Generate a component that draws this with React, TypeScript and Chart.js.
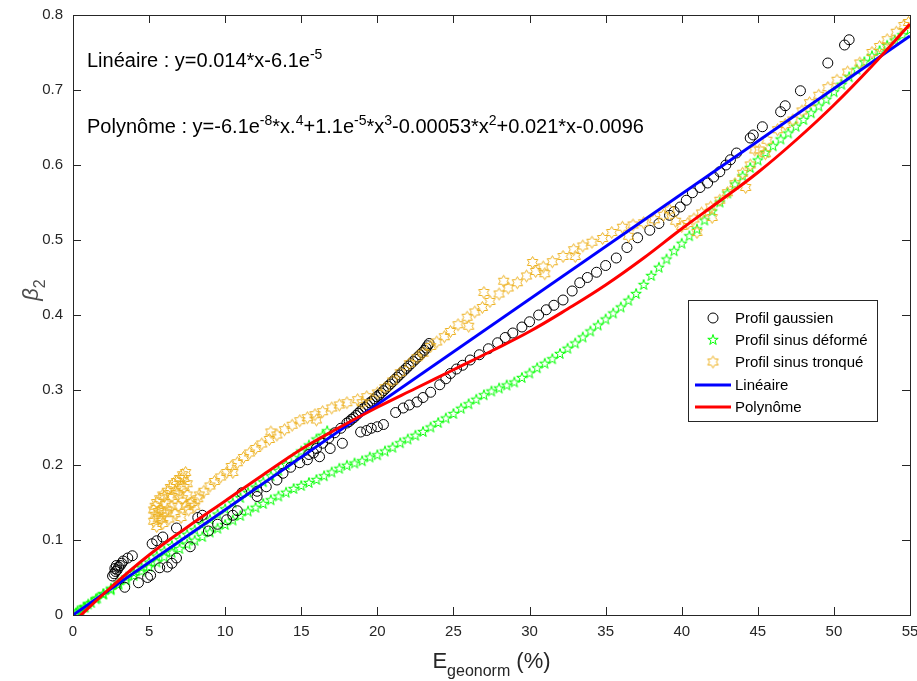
import React, { useEffect, useRef } from 'react';
import { Chart, registerables } from 'chart.js';

Chart.register(...registerables);

const xTickLabels = ['0', '5', '10', '15', '20', '25', '30', '35', '40', '45', '50', '55'];
const yTickLabels = ['0', '0.1', '0.2', '0.3', '0.4', '0.5', '0.6', '0.7', '0.8'];

const seriesNames = ['Profil gaussien', 'Profil sinus déformé', 'Profil sinus tronqué', 'Linéaire', 'Polynôme'];

const linearText = ['Linéaire : y=0.014*x-6.1e', '-5'];
const polyText = ['Polynôme : y=-6.1e', '-8', '*x.', '4', '+1.1e', '-5', '*x', '3', '-0.00053*x', '2', '+0.021*x-0.0096'];

const gaussPoints: [number, number][] = [
  [2.6, 0.052], [2.7, 0.055], [2.8, 0.058], [2.75, 0.062], [2.9, 0.06], [3.0, 0.064], [2.85, 0.066], [3.1, 0.066],
  [3.2, 0.069], [3.3, 0.072], [3.6, 0.076], [3.9, 0.079],
  [3.4, 0.037], [4.3, 0.043], [4.9, 0.05], [5.1, 0.053],
  [5.2, 0.095], [5.5, 0.099], [5.9, 0.104],
  [5.7, 0.063], [6.2, 0.064], [6.5, 0.069], [6.8, 0.076],
  [6.8, 0.116], [7.7, 0.091], [8.2, 0.13], [8.5, 0.133],
  [8.9, 0.112], [9.5, 0.121], [10.1, 0.127], [10.5, 0.133], [10.8, 0.139],
  [11.1, 0.163], [12.1, 0.158], [12.1, 0.165], [12.7, 0.171], [13.4, 0.18], [13.8, 0.189], [14.3, 0.197],
  [14.9, 0.203], [15.4, 0.207], [15.8, 0.216], [16.2, 0.211], [16.9, 0.222], [17.7, 0.229],
  [15.5, 0.214], [16.0, 0.222], [16.4, 0.229], [16.8, 0.236], [17.2, 0.243], [17.6, 0.249],
  [18.0, 0.256], [18.15, 0.258], [18.3, 0.261], [18.45, 0.263], [18.6, 0.266], [18.75, 0.269], [18.9, 0.272],
  [19.05, 0.275], [19.2, 0.277], [19.35, 0.28], [19.5, 0.283], [19.65, 0.285], [19.8, 0.288], [19.95, 0.291],
  [20.1, 0.293], [20.25, 0.296], [20.4, 0.299], [20.55, 0.302], [20.7, 0.305], [20.85, 0.308], [21.0, 0.311],
  [21.15, 0.314], [21.3, 0.317], [21.45, 0.32], [21.6, 0.323], [21.75, 0.326], [21.9, 0.329], [22.05, 0.332],
  [22.2, 0.335], [22.35, 0.338], [22.5, 0.341], [22.65, 0.344], [22.8, 0.347], [22.95, 0.35], [23.1, 0.353],
  [23.2, 0.356], [23.3, 0.359], [23.4, 0.362],
  [18.9, 0.244], [19.3, 0.246], [19.6, 0.249], [20.0, 0.251], [20.4, 0.254], [21.2, 0.27], [21.7, 0.276],
  [22.1, 0.28], [22.6, 0.284], [23.0, 0.29], [23.5, 0.297], [24.1, 0.307], [24.5, 0.315], [24.8, 0.322],
  [25.2, 0.328], [25.6, 0.333], [26.1, 0.34], [26.7, 0.347], [27.3, 0.355], [27.9, 0.363], [28.4, 0.37],
  [28.9, 0.376], [29.5, 0.384], [30.0, 0.391], [30.6, 0.4], [31.1, 0.407], [31.6, 0.413], [32.2, 0.42],
  [32.8, 0.432], [33.3, 0.443], [33.8, 0.45], [34.4, 0.457], [35.0, 0.466], [35.7, 0.476], [36.4, 0.49],
  [37.1, 0.503], [37.9, 0.513], [38.5, 0.522], [39.2, 0.533], [39.5, 0.538], [39.9, 0.544], [40.3, 0.553],
  [40.7, 0.563], [41.2, 0.57], [41.7, 0.576], [42.1, 0.584], [42.5, 0.591], [42.9, 0.6], [43.2, 0.607],
  [43.6, 0.616], [44.5, 0.636], [44.7, 0.64], [45.3, 0.651], [46.5, 0.671], [46.8, 0.679], [47.8, 0.699],
  [49.6, 0.736], [50.7, 0.76], [51.0, 0.767],
];

const sinusDeformePoints: [number, number][] = [
  [0.2, 0.002], [0.5, 0.006], [0.8, 0.01], [1.2, 0.016], [1.6, 0.022], [2.0, 0.027], [2.5, 0.033], [3.0, 0.04],
  [3.5, 0.046], [4.0, 0.052], [4.5, 0.058], [5.0, 0.064], [5.5, 0.07], [6.0, 0.077], [6.5, 0.083], [7.0, 0.088],
  [7.5, 0.094], [8.0, 0.099], [8.5, 0.104], [9.0, 0.11], [9.5, 0.115], [10.0, 0.12], [10.5, 0.126], [11.0, 0.132],
  [11.5, 0.138], [12.0, 0.143], [12.5, 0.148], [13.0, 0.153], [13.5, 0.158], [14.0, 0.163], [14.5, 0.168],
  [15.0, 0.172], [15.5, 0.176], [16.0, 0.18], [16.5, 0.185], [17.0, 0.19], [17.5, 0.195], [18.0, 0.199],
  [18.5, 0.202], [19.0, 0.205], [19.5, 0.21], [20.0, 0.213], [20.5, 0.218], [21.0, 0.223], [21.5, 0.229],
  [22.0, 0.234], [22.5, 0.239], [23.0, 0.244], [23.5, 0.25], [24.0, 0.256], [24.5, 0.262], [25.0, 0.268],
  [25.5, 0.275], [26.0, 0.281], [26.5, 0.287], [27.0, 0.293], [27.5, 0.298], [28.0, 0.302], [28.5, 0.306],
  [29.0, 0.31], [29.5, 0.316], [30.0, 0.322], [30.5, 0.329], [31.0, 0.335], [31.5, 0.341], [32.0, 0.348],
  [32.5, 0.355], [33.0, 0.362], [33.5, 0.37], [34.0, 0.378], [34.5, 0.386], [35.0, 0.394], [35.5, 0.402],
  [36.0, 0.41], [36.5, 0.419], [37.0, 0.428], [37.5, 0.44], [38.0, 0.452], [38.5, 0.463], [39.0, 0.474],
  [39.5, 0.485], [40.0, 0.495], [40.5, 0.505], [41.0, 0.514], [41.5, 0.526], [42.0, 0.538], [42.5, 0.55],
  [43.0, 0.562], [43.5, 0.574], [44.0, 0.585], [44.5, 0.596], [45.0, 0.606], [45.5, 0.616], [46.0, 0.625],
  [46.5, 0.634], [47.0, 0.642], [47.5, 0.651], [48.0, 0.66], [48.5, 0.669], [49.0, 0.678], [49.5, 0.687],
  [50.0, 0.697], [50.5, 0.707], [51.0, 0.717], [51.5, 0.727], [52.0, 0.737], [52.5, 0.745], [53.0, 0.752],
  [53.5, 0.759], [54.0, 0.766], [54.5, 0.773], [55.0, 0.78],
  [0.3, 0.005], [0.7, 0.01], [1.0, 0.014], [1.5, 0.021], [2.0, 0.028], [2.5, 0.035], [3.0, 0.042], [3.5, 0.05],
  [4.0, 0.056], [4.5, 0.063], [5.0, 0.07], [5.5, 0.078], [6.0, 0.085], [6.5, 0.092], [7.0, 0.1], [7.5, 0.107],
  [8.0, 0.113], [8.5, 0.12], [9.0, 0.127], [9.5, 0.134], [10.0, 0.141], [10.5, 0.149], [11.0, 0.156],
  [11.5, 0.163], [12.0, 0.17], [12.5, 0.177], [13.0, 0.185], [13.5, 0.192], [14.0, 0.2], [14.5, 0.209],
  [15.0, 0.218], [15.5, 0.226], [16.0, 0.234], [16.4, 0.239], [16.7, 0.245],
];

const sinusTronquePoints: [number, number][] = [
  [5.3, 0.125], [5.3, 0.14], [5.4, 0.133], [5.5, 0.118], [5.5, 0.15], [5.6, 0.128], [5.7, 0.155], [5.8, 0.14],
  [5.9, 0.122], [5.9, 0.16], [6.0, 0.135], [6.1, 0.148], [6.2, 0.165], [6.3, 0.128], [6.4, 0.17], [6.5, 0.145],
  [6.6, 0.175], [6.7, 0.135], [6.8, 0.178], [6.9, 0.16], [7.0, 0.182], [7.1, 0.13], [7.2, 0.187], [7.3, 0.17],
  [7.4, 0.19], [7.4, 0.145], [7.5, 0.175], [7.6, 0.14], [7.8, 0.15], [8.0, 0.145], [8.2, 0.155],
  [5.4, 0.145], [5.6, 0.138], [5.8, 0.128], [6.0, 0.158], [6.2, 0.14], [6.5, 0.158], [6.7, 0.165], [6.9, 0.145],
  [7.1, 0.172], [7.2, 0.155], [7.3, 0.182], [7.5, 0.16], [7.7, 0.148],
  [8.3, 0.16], [8.6, 0.165], [9.0, 0.172], [9.3, 0.178], [9.7, 0.184], [10.1, 0.19], [10.4, 0.198], [10.8, 0.203],
  [11.2, 0.21], [11.6, 0.216], [12.0, 0.222], [12.4, 0.228], [12.9, 0.234], [13.4, 0.24], [13.9, 0.247],
  [14.4, 0.253], [14.9, 0.259], [15.4, 0.263], [15.9, 0.267], [16.4, 0.271], [17.0, 0.276], [17.5, 0.28],
  [18.0, 0.283], [18.7, 0.287], [19.3, 0.291], [20.0, 0.296], [20.5, 0.303], [21.0, 0.312], [21.5, 0.323],
  [22.1, 0.335], [22.6, 0.343], [23.0, 0.349], [23.5, 0.358], [23.9, 0.364], [24.4, 0.371], [24.8, 0.378],
  [25.3, 0.387], [25.9, 0.397], [26.4, 0.404], [26.9, 0.41], [27.4, 0.418], [28.0, 0.428], [28.6, 0.436],
  [29.2, 0.443], [29.8, 0.452], [30.4, 0.458], [30.9, 0.464], [31.5, 0.471], [32.2, 0.478], [32.9, 0.487],
  [33.5, 0.492], [34.1, 0.497], [34.8, 0.502], [35.4, 0.51], [36.1, 0.517], [36.8, 0.52], [37.5, 0.523],
  [38.2, 0.527], [38.8, 0.533], [39.2, 0.54], [39.6, 0.525], [40.0, 0.518], [40.4, 0.522], [40.8, 0.528],
  [41.3, 0.536], [41.9, 0.544], [42.5, 0.553], [43.0, 0.563], [43.5, 0.575], [44.0, 0.589], [44.5, 0.6],
  [45.1, 0.62], [45.6, 0.633], [46.3, 0.647], [46.8, 0.654], [47.3, 0.66], [47.9, 0.672], [48.4, 0.683],
  [49.0, 0.693], [49.6, 0.703], [50.2, 0.713], [50.9, 0.724], [51.7, 0.736], [52.5, 0.75], [53.0, 0.758],
  [53.5, 0.767], [54.1, 0.777], [54.6, 0.786], [54.9, 0.79],
  [10.5, 0.19], [13.0, 0.244], [16.0, 0.26], [19.0, 0.283], [26.0, 0.385], [27.0, 0.43], [28.3, 0.445],
  [30.2, 0.47], [31.0, 0.455], [33.0, 0.478], [36.5, 0.505], [41.0, 0.51], [42.0, 0.53], [44.2, 0.57],
  [45.5, 0.615], [44.8, 0.62],
];

const linearFitPoints: [number, number][] = [[0, 0], [55, 0.772]];

const polyFitPoints: [number, number][] = [
  [0, -0.01], [2.5, 0.037], [5, 0.08], [7.5, 0.117], [10, 0.152],
  [12.5, 0.187], [15, 0.221], [17.5, 0.25], [20, 0.277], [22.5, 0.302], [25, 0.327], [27.5, 0.352],
  [30, 0.378], [32.5, 0.408], [35, 0.44], [37.5, 0.476], [40, 0.515], [42.5, 0.552], [45, 0.59],
  [47.5, 0.633], [50, 0.68], [52.5, 0.732], [55, 0.788],
];

const toXY = (pts: [number, number][]) => pts.map(([x, y]) => ({ x, y }));

function makeStar(points: number, R: number, ratio: number, color: string): HTMLCanvasElement {
  const size = Math.ceil(R * 2 + 3);
  const c = document.createElement('canvas');
  c.width = size;
  c.height = size;
  const ctx = c.getContext('2d')!;
  const cx = size / 2;
  const cy = size / 2;
  ctx.beginPath();
  for (let i = 0; i < points * 2; i++) {
    const r = i % 2 === 0 ? R : R * ratio;
    const a = -Math.PI / 2 + (i * Math.PI) / points;
    const px = cx + r * Math.cos(a);
    const py = cy + r * Math.sin(a);
    if (i === 0) ctx.moveTo(px, py);
    else ctx.lineTo(px, py);
  }
  ctx.closePath();
  ctx.strokeStyle = color;
  ctx.lineWidth = 1;
  ctx.stroke();
  return c;
}

const FONT = "'Liberation Sans', Arial, sans-serif";
const AXIS_COLOR = '#262626';

function drawRich(ctx: CanvasRenderingContext2D, parts: string[], x: number, y: number, size: number) {
  let cx = x;
  parts.forEach((p, i) => {
    const sup = i % 2 === 1;
    ctx.font = `${sup ? Math.round(size * 0.7) : size}px ${FONT}`;
    ctx.textBaseline = 'alphabetic';
    ctx.textAlign = 'left';
    ctx.fillText(p, cx, sup ? y - size * 0.4 : y);
    cx += ctx.measureText(p).width;
  });
}

export default function App() {
  const canvasRef = useRef<HTMLCanvasElement | null>(null);

  useEffect(() => {
    document.body.style.margin = '0';
    document.body.style.overflow = 'hidden';
    const pent = makeStar(5, 5.5, 0.382, '#00ff00');
    const hexa = makeStar(6, 6, 0.577, '#EDB120');

    const overlay = {
      id: 'matlabOverlay',
      afterDraw(chart: any) {
        const { ctx, chartArea, scales } = chart;
        const { left, right, top, bottom } = chartArea;
        const xs = scales.x;
        const ys = scales.y;
        ctx.save();
        ctx.strokeStyle = AXIS_COLOR;
        ctx.lineWidth = 1;
        ctx.strokeRect(Math.round(left) + 0.5, Math.round(top) + 0.5, Math.round(right - left), Math.round(bottom - top));
        const tl = 8;
        ctx.beginPath();
        xs.ticks.forEach((t: any) => {
          const px = Math.round(xs.getPixelForValue(t.value)) + 0.5;
          ctx.moveTo(px, bottom);
          ctx.lineTo(px, bottom - tl);
          ctx.moveTo(px, top);
          ctx.lineTo(px, top + tl);
        });
        ys.ticks.forEach((t: any) => {
          const py = Math.round(ys.getPixelForValue(t.value)) + 0.5;
          ctx.moveTo(left, py);
          ctx.lineTo(left + tl, py);
          ctx.moveTo(right, py);
          ctx.lineTo(right - tl, py);
        });
        ctx.stroke();

        ctx.fillStyle = '#000';
        drawRich(ctx, linearText, left + 14, 67, 20);
        drawRich(ctx, polyText, left + 14, 133, 20);

        ctx.fillStyle = AXIS_COLOR;
        ctx.font = `22px ${FONT}`;
        ctx.textBaseline = 'alphabetic';
        ctx.textAlign = 'left';
        const eW = ctx.measureText('E').width;
        ctx.font = `16px ${FONT}`;
        const subW = ctx.measureText('geonorm').width;
        ctx.font = `22px ${FONT}`;
        const restW = ctx.measureText(' (%)').width;
        const total = eW + subW + restW;
        let lx = (left + right) / 2 - total / 2;
        const ly = 668;
        ctx.fillText('E', lx, ly);
        lx += eW;
        ctx.font = `16px ${FONT}`;
        ctx.fillText('geonorm', lx, ly + 8);
        lx += subW;
        ctx.font = `22px ${FONT}`;
        ctx.fillText(' (%)', lx, ly);

        ctx.save();
        ctx.translate(38, 290);
        ctx.rotate(-Math.PI / 2);
        ctx.fillStyle = '#4d4d4d';
        ctx.font = `italic 22px ${FONT}`;
        const bW = ctx.measureText('β').width;
        ctx.font = `16px ${FONT}`;
        const twoW = ctx.measureText('2').width;
        let yx = -(bW + twoW) / 2;
        ctx.font = `italic 22px ${FONT}`;
        ctx.fillText('β', yx, 0);
        yx += bW;
        ctx.font = `16px ${FONT}`;
        ctx.fillText('2', yx, 7);
        ctx.restore();

        const lgL = 688, lgT = 300, lgR = 877, lgB = 421;
        ctx.fillStyle = '#fff';
        ctx.fillRect(lgL, lgT, lgR - lgL, lgB - lgT);
        ctx.strokeStyle = AXIS_COLOR;
        ctx.lineWidth = 1;
        ctx.strokeRect(lgL + 0.5, lgT + 0.5, lgR - lgL, lgB - lgT);
        const rows = [318, 340, 362, 385, 407];
        const mx = 713;
        ctx.beginPath();
        ctx.arc(mx, rows[0], 5, 0, Math.PI * 2);
        ctx.strokeStyle = '#000';
        ctx.stroke();
        ctx.drawImage(pent, mx - pent.width / 2, rows[1] - pent.height / 2);
        ctx.drawImage(hexa, mx - hexa.width / 2, rows[2] - hexa.height / 2);
        ctx.lineWidth = 3;
        ctx.strokeStyle = '#0000ff';
        ctx.beginPath();
        ctx.moveTo(695, rows[3]);
        ctx.lineTo(731, rows[3]);
        ctx.stroke();
        ctx.strokeStyle = '#ff0000';
        ctx.beginPath();
        ctx.moveTo(695, rows[4]);
        ctx.lineTo(731, rows[4]);
        ctx.stroke();
        ctx.fillStyle = '#000';
        ctx.font = `15px ${FONT}`;
        ctx.textBaseline = 'middle';
        ctx.textAlign = 'left';
        seriesNames.forEach((n, i) => {
          ctx.fillText(n, 735, rows[i] + 1);
        });
        ctx.restore();
      },
    };

    const chart = new Chart(canvasRef.current!, {
      type: 'scatter',
      data: {
        datasets: [
          {
            label: seriesNames[4],
            data: toXY(polyFitPoints),
            showLine: true,
            borderColor: '#ff0000',
            borderWidth: 3,
            pointRadius: 0,
            tension: 0.4,
            order: 0,
          } as any,
          {
            label: seriesNames[3],
            data: toXY(linearFitPoints),
            showLine: true,
            borderColor: '#0000ff',
            borderWidth: 3,
            pointRadius: 0,
            order: 1,
          },
          {
            label: seriesNames[2],
            data: toXY(sinusTronquePoints),
            pointStyle: hexa,
            pointRadius: 6,
            order: 2,
          },
          {
            label: seriesNames[0],
            data: toXY(gaussPoints),
            pointStyle: 'circle',
            pointRadius: 5,
            borderColor: '#000',
            backgroundColor: 'rgba(0,0,0,0)',
            borderWidth: 1,
            order: 3,
          },
          {
            label: seriesNames[1],
            data: toXY(sinusDeformePoints),
            pointStyle: pent,
            pointRadius: 5,
            order: 4,
          },
        ],
      },
      options: {
        animation: false,
        responsive: true,
        maintainAspectRatio: false,
        layout: { padding: { top: 15, right: 7, left: 0, bottom: 0 } },
        plugins: { legend: { display: false }, tooltip: { enabled: false } },
        scales: {
          x: {
            type: 'linear',
            min: 0,
            max: 55,
            ticks: {
              stepSize: 5,
              padding: 8,
              color: AXIS_COLOR,
              font: { family: FONT, size: 15 },
              maxRotation: 0,
              callback: (_v: any, i: number) => xTickLabels[i],
            },
            grid: { display: false, drawTicks: false },
            border: { display: false },
            afterFit: (s: any) => {
              s.height = 66;
              s.paddingLeft = 0;
              s.paddingRight = 0;
            },
          },
          y: {
            type: 'linear',
            min: 0,
            max: 0.8,
            ticks: {
              stepSize: 0.1,
              padding: 10,
              color: AXIS_COLOR,
              font: { family: FONT, size: 15 },
              callback: (_v: any, i: number) => yTickLabels[i],
            },
            grid: { display: false, drawTicks: false },
            border: { display: false },
            afterFit: (s: any) => {
              s.width = 73;
              s.paddingTop = 0;
              s.paddingBottom = 0;
            },
          },
        },
      },
      plugins: [overlay],
    });
    return () => chart.destroy();
  }, []);

  return (
    <div style={{ width: 917, height: 681, position: 'relative' }}>
      <canvas ref={canvasRef} />
    </div>
  );
}
